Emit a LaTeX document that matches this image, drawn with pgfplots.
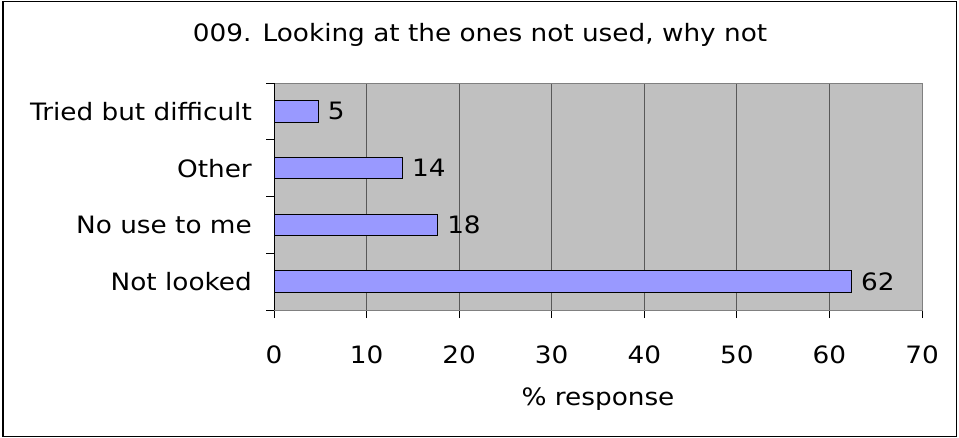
\documentclass[border=0pt]{standalone}
\usepackage{fontspec}
\setmainfont{DejaVu Sans}[FakeStretch=1.1]
\usepackage{pgfplots}
\pgfplotsset{compat=1.18}
\definecolor{barfill}{HTML}{9999FF}
\definecolor{plotbg}{HTML}{C0C0C0}

\begin{document}
\begin{tikzpicture}[font=\fontsize{24}{28}\selectfont]
\useasboundingbox (0,0) rectangle (959bp,-438bp);
\fill[white] (0,0) rectangle (959bp,-438bp);
\draw[line width=1.5bp] (3bp,-1.5bp) rectangle (956.5bp,-436.5bp);
\begin{axis}[
    at={(274bp,-310bp)}, anchor=south west,
    scale only axis, width=648bp, height=227bp,
    xbar, bar width=21.5bp,
    xmin=0, xmax=70, ymin=-0.5, ymax=3.5,
    xtick={0,10,...,70},
    ytick={-0.5,0.5,...,3.5},
    y tick label as interval,
    yticklabels={Not looked, No use to me, Other, Tried but difficult},
    xtick pos=bottom, ytick pos=left,
    tick align=outside,
    major tick length=8bp,
    tick style={black, line width=0.8bp},
    xmajorgrids, grid style={black!65, line width=0.8bp},
    axis background/.style={fill=plotbg},
    axis line style={black!50, line width=0.8bp},
    /pgf/number format/assume math mode=true,
    xticklabel style={anchor=base, inner sep=0pt, yshift=-45bp},
    yticklabel style={anchor=east, inner sep=0pt, xshift=-14bp},
    xlabel={\% response},
    xlabel style={at={(axis description cs:0.5,0)}, anchor=base, inner sep=0pt, yshift=-95bp},
    title={009. Looking at the ones not used, why not},
    title style={at={(axis description cs:0.318,1)}, anchor=base, inner sep=0pt, yshift=36bp},
    nodes near coords={\pgfmathprintnumber[fixed,precision=0]{\pgfplotspointmeta}},
    nodes near coords style={anchor=west, inner sep=0pt, xshift=9bp, text=black},
]
\addplot[fill=barfill, draw=black, line width=0.8bp] coordinates {
    (62.4,0) (17.7,1) (13.9,2) (4.8,3)
};
\draw[black, line width=0.8bp] (rel axis cs:0,0) -- (rel axis cs:0,1);
\end{axis}
\end{tikzpicture}
\end{document}
